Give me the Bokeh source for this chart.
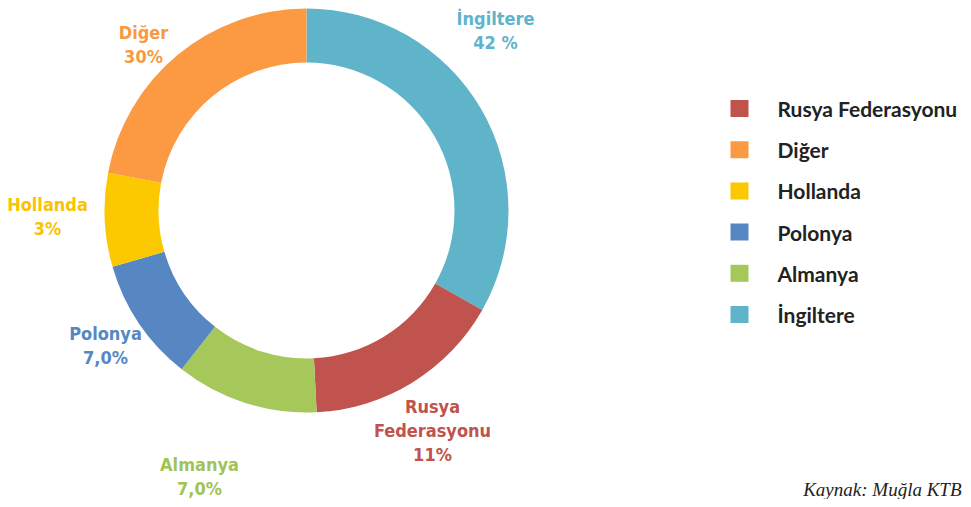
import math
from bokeh.plotting import figure
from bokeh.models import Range1d, ColumnDataSource
from bokeh.core.properties import value
from bokeh.embed import file_html
from bokeh.resources import INLINE

# ---- data (clockwise from 12 o'clock, shares as drawn) ----
slices = ["İngiltere", "Rusya Federasyonu", "Almanya", "Polonya", "Hollanda", "Diğer"]
shares = [33.2, 16.0, 11.4, 9.9, 7.5, 22.0]
slice_labels = ["İngiltere\n42 %", "Rusya\nFederasyonu\n11%", "Almanya\n7,0%",
                "Polonya\n7,0%", "Hollanda\n3%", "Diğer\n30%"]
colors = ["#5fb4ca", "#c0534d", "#a6c85a", "#5787c3", "#fcc800", "#fb9a42"]
label_colors = ["#5fb4ca", "#c0534d", "#9fc455", "#5787c3", "#f9c300", "#f79a42"]

legend_order = ["Rusya Federasyonu", "Diğer", "Hollanda", "Polonya", "Almanya", "İngiltere"]
source_note = "Kaynak: Muğla KTB"

# ---- layout (page pixels) ----
W, H = 963, 499
PAGE_H = 507
def Y(py):
    return PAGE_H - py

cx, cy = 306, 210
r_in, r_out = 148, 202
label_pos = {
    "İngiltere": (495, 30),
    "Rusya Federasyonu": (432, 430),
    "Almanya": (199, 476),
    "Polonya": (105, 345),
    "Hollanda": (47, 216),
    "Diğer": (143, 44),
}

total = sum(shares)
starts, ends = [], []
acc = 0.0
for s in shares:
    starts.append(math.pi / 2 - 2 * math.pi * acc / total)
    acc += s
    ends.append(math.pi / 2 - 2 * math.pi * acc / total)

p = figure(width=W, height=H, output_backend="svg", toolbar_location=None,
           x_range=Range1d(0, W), y_range=Range1d(PAGE_H - H, PAGE_H),
           min_border=0)
p.axis.visible = False
p.grid.visible = False
p.outline_line_color = None
p.background_fill_color = "white"
p.border_fill_color = "white"

src = ColumnDataSource(dict(x=[cx] * len(shares), y=[Y(cy)] * len(shares),
                            start=starts, end=ends, color=colors))
p.annular_wedge(x="x", y="y", inner_radius=r_in, outer_radius=r_out,
                start_angle="start", end_angle="end", direction="clock",
                fill_color="color", line_color=None, source=src)

# slice labels
lsrc = ColumnDataSource(dict(
    x=[label_pos[s][0] for s in slices],
    y=[Y(label_pos[s][1]) for s in slices],
    text=slice_labels, color=label_colors))
p.text(x="x", y="y", text="text", text_color="color", source=lsrc,
       text_align="center", text_baseline="middle",
       text_font=value("DejaVu Sans Condensed"), text_font_style="bold",
       text_font_size="18px", text_line_height=1.13)

# legend
color_of = dict(zip(slices, colors))
leg_y0, leg_dy = 108, 41.2
leg_src = ColumnDataSource(dict(
    x=[739] * len(legend_order),
    tx=[777] * len(legend_order),
    y=[Y(leg_y0 + i * leg_dy) for i in range(len(legend_order))],
    text=legend_order,
    color=[color_of[n] for n in legend_order]))
p.rect(x="x", y="y", width=18, height=17, fill_color="color", line_color=None, source=leg_src)
p.text(x="tx", y="y", text="text", source=leg_src, text_color="#222222",
       text_align="left", text_baseline="middle",
       text_font=value("Lato"), text_font_style="bold", text_font_size="21px")

# source note
p.text(x=[961], y=[Y(489)], text=[source_note], text_align="right",
       text_baseline="alphabetic", text_color="#222222",
       text_font=value("Liberation Serif"), text_font_style="italic",
       text_font_size="19px")

open("out.html", "w").write(file_html(p, INLINE))
